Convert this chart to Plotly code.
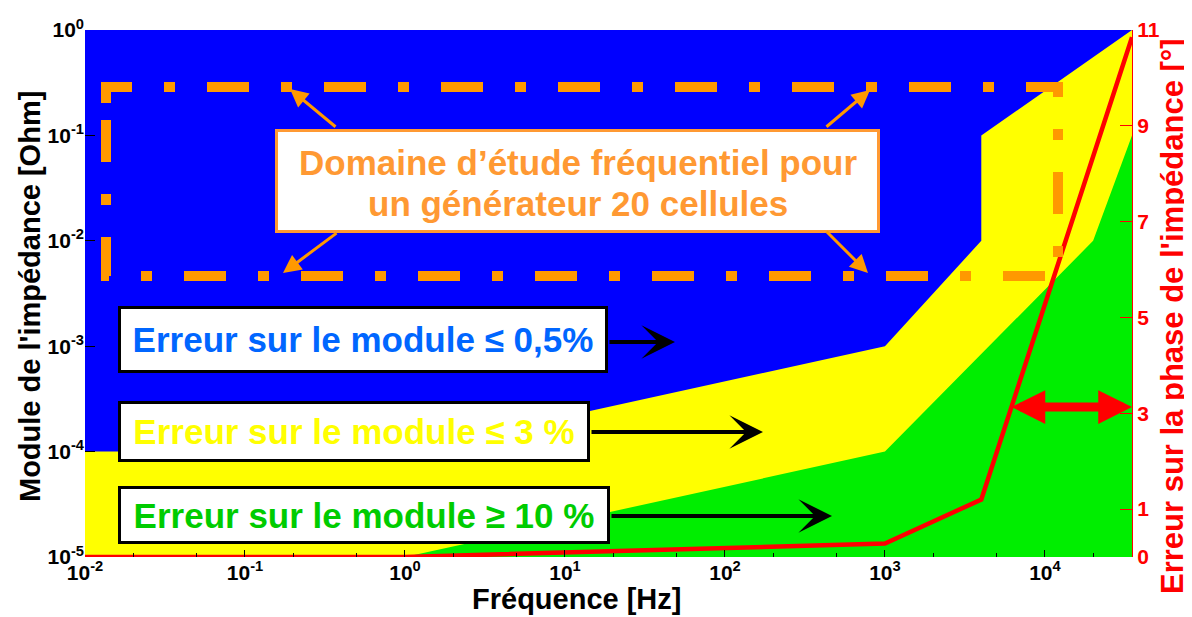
import math
import plotly.graph_objects as go

# ---------------- data ----------------
freq_range = [0.01, 35000]           # Hz
mod_range = [1e-5, 1.0]              # Ohm
phase_range = [0, 11]                # degrees

# upper boundary of the "<= 3 %" (yellow) domain
freq_yellow = [0.01, 1, 1000, 4000, 4000, 35000]
mod_yellow = [1e-4, 1e-4, 1e-3, 1e-2, 1e-1, 1.0]

# upper boundary of the ">= 10 %" (green) domain
freq_green = [1, 1000, 20000, 35000]
mod_green = [1e-5, 1e-4, 1e-2, 1e-1]

# phase error curve (right axis)
freq_phase = [0.01, 1, 1000, 4000, 35000]
phase_err = [0, 0, 0.28, 1.2, 10.85]

x_tickvals = [0.01, 0.1, 1, 10, 100, 1000, 10000]
x_ticktext = ["10<sup>-2</sup>", "10<sup>-1</sup>", "10<sup>0</sup>", "10<sup>1</sup>",
              "10<sup>2</sup>", "10<sup>3</sup>", "10<sup>4</sup>"]
y_tickvals = [1e-5, 1e-4, 1e-3, 1e-2, 1e-1, 1]
y_ticktext = ["10<sup>-5</sup>", "10<sup>-4</sup>", "10<sup>-3</sup>", "10<sup>-2</sup>",
              "10<sup>-1</sup>", "10<sup>0</sup>"]
y2_tickvals = [0, 1, 3, 5, 7, 9, 11]

# ---------------- layout geometry ----------------
PAGE_OFF = 8                      # default body margin of the html page
W, H = 1192 - PAGE_OFF, 617 - PAGE_OFF
PL, PT, PW, PH = 85, 30, 1047, 527    # plot area in page pixels
ML, MT = PL - PAGE_OFF, PT - PAGE_OFF
MR, MB = W - ML - PW, H - MT - PH


def px(x):
    return (x - PL) / PW


def py(y):
    return (PT + PH - y) / PH


FONT = "Liberation Sans, Arial, sans-serif"
BLUE = "#0000FF"
YELLOW = "#FFFF00"
GREEN = "#00EE00"
RED = "#FF0000"
ORANGE = "#FF9900"
ORANGE_T = "#FF9933"

fig = go.Figure()

# yellow domain polygon (closed down to the bottom of the axis)
fig.add_trace(go.Scatter(
    x=freq_yellow + [freq_range[1], freq_range[0]],
    y=mod_yellow + [mod_range[0], mod_range[0]],
    fill="toself", fillcolor=YELLOW, mode="lines", line=dict(width=0),
    hoverinfo="skip", showlegend=False))

# green domain polygon
fig.add_trace(go.Scatter(
    x=freq_green + [freq_range[1], freq_green[0]],
    y=mod_green + [mod_range[0], mod_range[0]],
    fill="toself", fillcolor=GREEN, mode="lines", line=dict(width=0),
    hoverinfo="skip", showlegend=False))

# phase error
fig.add_trace(go.Scatter(
    x=freq_phase, y=phase_err, yaxis="y2", mode="lines",
    line=dict(color=RED, width=4.5), hoverinfo="skip", showlegend=False))

fig.update_layout(
    width=W, height=H,
    margin=dict(l=ML, r=MR, t=MT, b=MB, pad=0),
    paper_bgcolor="white", plot_bgcolor=BLUE,
    showlegend=False,
    xaxis=dict(type="log", range=[math.log10(freq_range[0]), math.log10(freq_range[1])],
               tickvals=x_tickvals, ticktext=x_ticktext, ticks="inside", ticklen=7,
               tickcolor="black", tickwidth=1, showgrid=False, zeroline=False,
               showline=False, automargin=False, ticklabelstandoff=1,
               tickfont=dict(family=FONT, size=21, color="black", weight="bold"),
               minor=dict(ticks="inside", ticklen=4, tickcolor="black", showgrid=False)),
    yaxis=dict(type="log", range=[math.log10(mod_range[0]), math.log10(mod_range[1])],
               tickvals=y_tickvals, ticktext=y_ticktext, ticks="inside", ticklen=10,
               tickcolor="black", tickwidth=1, showgrid=False, zeroline=False,
               showline=False, automargin=False,
               tickfont=dict(family=FONT, size=21, color="black", weight="bold")),
    yaxis2=dict(overlaying="y", side="right", range=phase_range, tickvals=y2_tickvals,
                ticks="inside", ticklen=12, tickcolor=RED, tickwidth=1, automargin=False,
                showgrid=False, zeroline=False, showline=True, linecolor=RED, linewidth=1,
                tickfont=dict(family=FONT, size=21, color=RED, weight="bold")),
)

# dash-dot study domain rectangle (drawn as path so the dash phase matches)
L, R, T, B = px(106), px(1058), py(87), py(276)
path = f"M{L},{py(103)} L{L},{T} L{R},{T} L{R},{B} L{L},{B} Z"
fig.add_shape(type="path", path=path, xref="paper", yref="paper",
              line=dict(color=ORANGE, width=10, dash="42px,32px,11px,32px"),
              layer="above")

ann = []


def arrow(tail, head, color, width, style, size, both=False):
    d = dict(x=px(head[0]), y=py(head[1]), xref="paper", yref="paper",
             ax=tail[0] - head[0], ay=tail[1] - head[1], axref="pixel", ayref="pixel",
             text="", showarrow=True, arrowcolor=color, arrowwidth=width,
             arrowhead=style, arrowsize=size)
    if both:
        d.update(arrowside="end+start", startarrowhead=style, startarrowsize=size)
    ann.append(d)


# orange arrows to rectangle corners
arrow((337, 128), (290, 89), ORANGE, 3, 2, 1.2)
arrow((338, 232), (283, 273), ORANGE, 3, 2, 1.2)
arrow((825, 128), (870, 90), ORANGE, 3, 2, 1.2)
arrow((825, 230), (868, 273), ORANGE, 3, 2, 1.2)

# black arrows from labels
arrow((608, 342), (675, 342), "black", 4, 3, 1.4)
arrow((590, 432), (763, 432), "black", 4, 3, 1.4)
arrow((610, 516), (832, 516), "black", 4, 3, 1.4)

# red double arrow
arrow((1010, 407), (1132, 407), RED, 9, 2, 0.75, both=True)


def box(text, x0, y0, x1, y1, color, border, size):
    bw = 3
    ann.append(dict(x=px(x0), y=py(y0), xref="paper", yref="paper",
                    xanchor="left", yanchor="top", showarrow=False,
                    text=text, width=x1 - x0 - 2 * bw, height=y1 - y0 - 2 * bw,
                    bgcolor="white", bordercolor=border, borderwidth=bw, borderpad=0,
                    align="center", valign="middle",
                    font=dict(family=FONT, size=size, color=color, weight="bold")))


# orange study-domain label box
fig.add_shape(type="rect", xref="paper", yref="paper",
              x0=px(276.5), x1=px(878.5), y0=py(130.5), y1=py(231.5),
              fillcolor="white", line=dict(color=ORANGE_T, width=3), layer="above")
for line_txt, yc in [("Domaine d’étude fréquentiel pour", 163),
                     ("un générateur 20 cellules", 203)]:
    ann.append(dict(x=px(578), y=py(yc), xref="paper", yref="paper",
                    xanchor="center", yanchor="middle", showarrow=False, text=line_txt,
                    font=dict(family=FONT, size=35, color=ORANGE_T, weight="bold")))

box("Erreur sur le module ≤ 0,5%", 118, 306, 608, 373, "#0066FF", "black", 35)
box("Erreur sur le module ≤ 3 %", 118, 401, 590, 462, YELLOW, "black", 35)
box("Erreur sur le module ≥ 10 %", 118, 486, 610, 544, "#00CC00", "black", 35)

# axis titles
ann.append(dict(x=px(30), y=py(297), xref="paper", yref="paper", textangle=-90,
                xanchor="center", yanchor="middle", showarrow=False,
                text="Module de l'impédance [Ohm]",
                font=dict(family=FONT, size=29, color="black", weight="bold")))
ann.append(dict(x=px(1172), y=py(316), xref="paper", yref="paper", textangle=-90,
                xanchor="center", yanchor="middle", showarrow=False,
                text="Erreur sur la phase de l'impédance [°]",
                font=dict(family=FONT, size=31, color=RED, weight="bold")))
ann.append(dict(x=px(576), y=py(617), xref="paper", yref="paper",
                xanchor="center", yanchor="bottom", showarrow=False,
                text="Fréquence [Hz]",
                font=dict(family=FONT, size=29, color="black", weight="bold")))

fig.update_layout(annotations=ann)
fig.write_html("out.html")
